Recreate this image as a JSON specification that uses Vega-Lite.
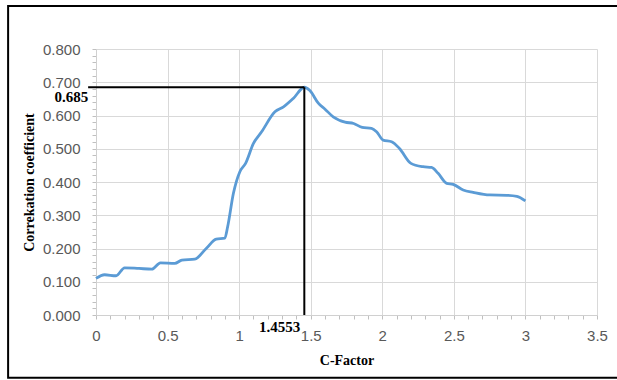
{
  "$schema": "https://vega.github.io/schema/vega-lite/v6.json",
  "width": 501,
  "height": 266,
  "autosize": {"type": "none"},
  "padding": {"left": 96, "top": 49, "right": 20, "bottom": 65},
  "background": "white",
  "config": {"view": {"stroke": null}},
  "encoding": {
    "x": {
      "field": "c", "type": "quantitative",
      "scale": {"domain": [0, 3.5], "nice": false, "zero": false},
      "axis": {
        "title": "C-Factor",
        "values": [0,0.1,0.2,0.3,0.4,0.5,0.6,0.7,0.8,0.9,1,1.1,1.2,1.3,1.4,1.5,1.6,1.7,1.8,1.9,2,2.1,2.2,2.3,2.4,2.5,2.6,2.7,2.8,2.9,3,3.1,3.2,3.3,3.4,3.5],
        "labelExpr": "abs(datum.value*2 - round(datum.value*2)) < 0.001 ? format(datum.value, '~g') : ''",
        "labelOverlap": false,
        "labelFlush": false,
        "gridOpacity": {"condition": {"test": "abs(datum.value*2 - round(datum.value*2)) < 0.001", "value": 1}, "value": 0},
        "gridColor": "#d9d9d9",
        "domainColor": "#d0d0d0",
        "tickColor": "#c0c0c0",
        "tickSize": 4,
        "labelPadding": 9,
        "labelFont": "Liberation Sans",
        "labelFontSize": 15,
        "labelColor": "#595959",
        "titleFont": "Liberation Serif",
        "titleFontWeight": "bold",
        "titleFontSize": 14,
        "titleColor": "black",
        "titlePadding": 10
      }
    },
    "y": {
      "field": "r", "type": "quantitative",
      "scale": {"domain": [0, 0.8], "nice": false, "zero": false},
      "axis": {
        "title": "Correkation coefficient",
        "values": [0,0.02,0.04,0.06,0.08,0.1,0.12,0.14,0.16,0.18,0.2,0.22,0.24,0.26,0.28,0.3,0.32,0.34,0.36,0.38,0.4,0.42,0.44,0.46,0.48,0.5,0.52,0.54,0.56,0.58,0.6,0.62,0.64,0.66,0.68,0.7,0.72,0.74,0.76,0.78,0.8],
        "labelExpr": "abs(datum.value*10 - round(datum.value*10)) < 0.001 ? format(datum.value, '.3f') : ''",
        "labelOverlap": false,
        "labelFlush": false,
        "gridOpacity": {"condition": {"test": "abs(datum.value*10 - round(datum.value*10)) < 0.001", "value": 1}, "value": 0},
        "gridColor": "#d9d9d9",
        "domainColor": "#d0d0d0",
        "tickColor": "#c0c0c0",
        "tickSize": 4,
        "labelPadding": 12,
        "labelFont": "Liberation Sans",
        "labelFontSize": 15,
        "labelColor": "#595959",
        "titleFont": "Liberation Serif",
        "titleFontWeight": "bold",
        "titleFontSize": 14,
        "titleColor": "black",
        "titlePadding": 6
      }
    }
  },
  "layer": [
    {
      "data": {"values": [
        {"c": 0, "r": 0.110},
        {"c": 0.06, "r": 0.121},
        {"c": 0.14, "r": 0.118},
        {"c": 0.2, "r": 0.142},
        {"c": 0.3, "r": 0.140},
        {"c": 0.39, "r": 0.138},
        {"c": 0.45, "r": 0.157},
        {"c": 0.55, "r": 0.155},
        {"c": 0.6, "r": 0.165},
        {"c": 0.69, "r": 0.168},
        {"c": 0.77, "r": 0.200},
        {"c": 0.84, "r": 0.228},
        {"c": 0.9, "r": 0.231},
        {"c": 0.92, "r": 0.266},
        {"c": 0.96, "r": 0.366},
        {"c": 1.005, "r": 0.431},
        {"c": 1.045, "r": 0.456},
        {"c": 1.1, "r": 0.516},
        {"c": 1.157, "r": 0.551},
        {"c": 1.25, "r": 0.611},
        {"c": 1.31, "r": 0.626},
        {"c": 1.38, "r": 0.652},
        {"c": 1.4553, "r": 0.685},
        {"c": 1.494, "r": 0.675},
        {"c": 1.553, "r": 0.637},
        {"c": 1.6, "r": 0.619},
        {"c": 1.657, "r": 0.596},
        {"c": 1.74, "r": 0.580},
        {"c": 1.8, "r": 0.576},
        {"c": 1.86, "r": 0.564},
        {"c": 1.925, "r": 0.561},
        {"c": 1.96, "r": 0.551},
        {"c": 2.006, "r": 0.526},
        {"c": 2.065, "r": 0.521},
        {"c": 2.12, "r": 0.501},
        {"c": 2.2, "r": 0.456},
        {"c": 2.285, "r": 0.446},
        {"c": 2.344, "r": 0.444},
        {"c": 2.39, "r": 0.426},
        {"c": 2.45, "r": 0.396},
        {"c": 2.495, "r": 0.393},
        {"c": 2.565, "r": 0.376},
        {"c": 2.635, "r": 0.369},
        {"c": 2.75, "r": 0.361},
        {"c": 2.87, "r": 0.360},
        {"c": 2.94, "r": 0.357},
        {"c": 3.0, "r": 0.343}
      ]},
      "mark": {"type": "line", "color": "#5b9bd5", "strokeWidth": 2.8, "interpolate": "monotone"}
    },
    {
      "data": {"values": [{"c": -0.055, "c2": 1.4553, "r": 0.685}]},
      "mark": {"type": "rule", "color": "black", "strokeWidth": 2, "clip": false},
      "encoding": {"x2": {"field": "c2"}}
    },
    {
      "data": {"values": [{"c": 1.4553, "r": 0, "r2": 0.685}]},
      "mark": {"type": "rule", "color": "black", "strokeWidth": 2, "clip": false},
      "encoding": {"y2": {"field": "r2"}}
    },
    {
      "data": {"values": [{"c": -0.055, "r": 0.685, "label": "0.685"}]},
      "mark": {"type": "text", "align": "right", "baseline": "top", "dy": 3, "font": "Liberation Serif", "fontWeight": "bold", "fontSize": 15, "color": "black"},
      "encoding": {"text": {"field": "label"}}
    },
    {
      "data": {"values": [{"c": 1.4553, "r": 0, "label": "1.4553"}]},
      "mark": {"type": "text", "align": "right", "baseline": "top", "dx": -4, "dy": 5, "font": "Liberation Serif", "fontWeight": "bold", "fontSize": 15, "color": "black"},
      "encoding": {"text": {"field": "label"}}
    },
    {
      "data": {"values": [{"c": -0.614, "c2": 3.75, "r": 0.929, "r2": -0.189}]},
      "mark": {"type": "rect", "fill": null, "stroke": "black", "strokeWidth": 2, "clip": false},
      "encoding": {"x2": {"field": "c2"}, "y2": {"field": "r2"}}
    }
  ]
}
